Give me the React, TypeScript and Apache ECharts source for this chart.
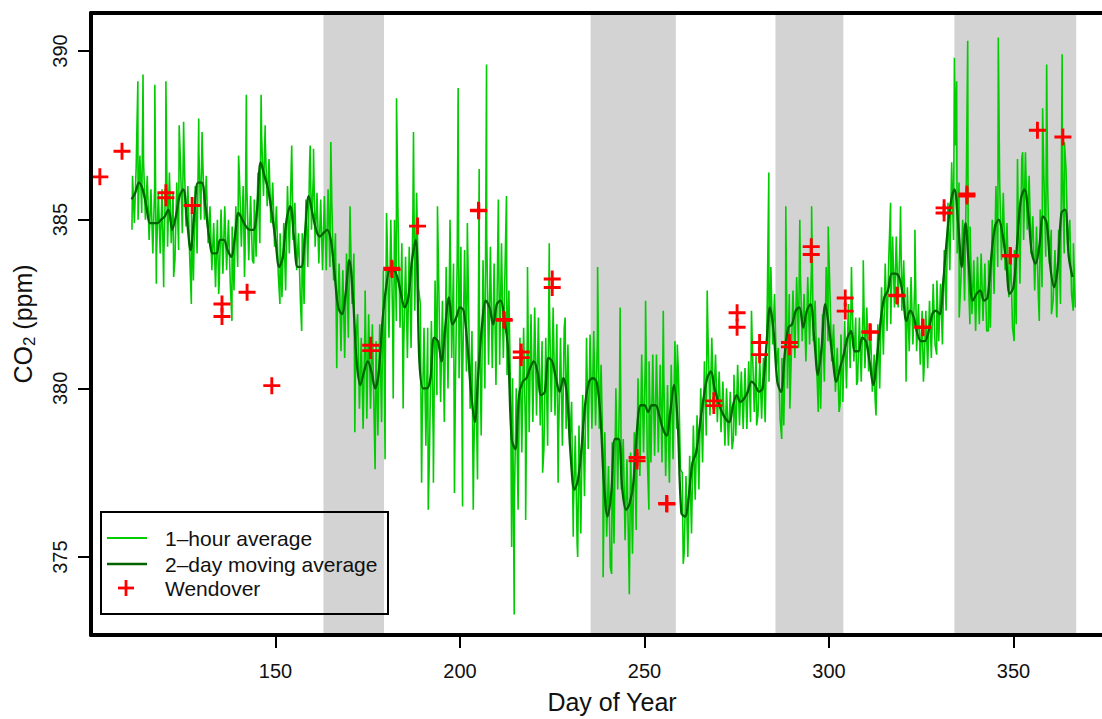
import React, { useEffect, useRef } from "react";
import * as echarts from "echarts";

// ---- axis ticks ----
const dayTicks = [150, 200, 250, 300, 350];
const ppmTicks = [375, 380, 385, 390];

// ---- shaded periods (day of year) ----
const bandStart = [163.0, 235.4, 285.5, 334.0];
const bandEnd = [179.4, 258.5, 303.9, 367.0];

// ---- 1-hour average: daily core band (top / bottom), first day = 111 ----
const firstDay = 111;
const hourHigh = [
  386.3, 386.6, 386.9, 386.7, 386.3, 385.9, 386.0, 385.8, 385.9, 386.2,
  386.4, 385.8, 386.1, 386.7, 386.9, 386.0, 385.2, 386.0, 387.0, 386.9,
  386.3, 385.4, 384.9, 385.0, 385.3, 385.4, 385.0, 384.8, 385.4, 386.2,
  386.0, 385.9, 385.7, 385.6, 386.4, 387.5, 387.3, 386.8, 386.1, 385.4,
  384.6, 384.9, 386.0, 386.5, 385.5, 384.6, 384.6, 385.6, 386.7, 386.3,
  385.8, 385.6, 385.7, 385.9, 385.6, 384.6, 383.7, 383.5, 384.0, 385.0,
  384.0, 382.2, 381.5, 381.9, 382.2, 381.9, 381.4, 381.9, 383.5, 384.5,
  385.0, 385.0, 384.8, 384.3, 383.9, 384.2, 385.3, 385.8, 382.5, 381.8,
  381.8, 382.0, 383.2, 383.1, 382.6, 383.6, 384.4, 383.7, 383.9, 384.2,
  384.1, 383.1, 381.7, 380.8, 382.4, 383.8, 384.5, 384.2, 383.7, 384.3,
  384.3, 383.8, 382.9, 380.3, 380.0, 381.5, 381.8, 381.9, 382.2, 382.4,
  382.1, 381.4, 381.5, 382.5, 382.4, 381.9, 381.5, 381.8, 381.3, 379.6,
  378.6, 378.9, 379.8, 381.0, 381.6, 381.7, 381.6, 380.7, 378.7, 377.7,
  378.4, 380.0, 380.0, 378.5, 377.9, 378.1, 378.7, 380.3, 381.0, 381.0,
  380.8, 381.0, 381.0, 380.7, 380.3, 380.1, 380.7, 381.4, 380.3, 377.5,
  377.4, 378.0, 378.9, 379.2, 380.0, 380.8, 381.4, 381.5, 381.0, 380.5,
  380.2, 380.0, 379.9, 380.4, 380.7, 380.5, 380.6, 380.8, 381.2, 381.0,
  380.8, 380.9, 382.3, 383.6, 382.8, 381.2, 380.9, 382.0, 382.8, 382.9,
  383.3, 383.4, 382.8, 383.3, 383.6, 382.6, 381.5, 382.2, 383.6, 382.9,
  381.9, 381.2, 381.6, 382.0, 382.5, 382.7, 382.1, 382.1, 382.5, 382.4,
  381.8, 381.0, 381.9, 383.0, 383.7, 384.0, 384.5, 384.5, 384.4, 383.8,
  383.0, 383.3, 383.1, 382.5, 382.3, 382.3, 382.6, 383.1, 383.2, 383.1,
  384.1, 385.5, 386.7, 387.2, 386.1, 385.0, 386.3, 384.8, 383.8, 383.9,
  384.0, 383.7, 383.8, 385.0, 386.0, 386.2, 385.8, 384.9, 383.9, 384.1,
  385.5, 386.8, 387.0, 386.3, 385.1, 384.8, 385.3, 386.3, 386.1, 384.7,
  384.1, 384.7, 386.5, 386.5, 385.0, 384.3,
];
const hourLow = [
  384.9, 385.0, 385.2, 385.0, 384.4, 384.0, 383.9, 384.0, 384.0, 384.2,
  384.3, 383.8, 384.1, 384.6, 384.8, 383.9, 383.2, 384.0, 385.0, 385.0,
  384.3, 383.5, 383.0, 383.1, 383.4, 383.5, 383.1, 382.9, 383.6, 384.2,
  384.0, 383.8, 383.8, 383.9, 384.3, 385.7, 385.4, 384.9, 384.2, 383.4,
  382.7, 382.9, 384.0, 384.4, 383.5, 382.6, 382.5, 383.6, 384.7, 384.2,
  383.7, 383.5, 383.5, 383.6, 383.2, 382.1, 381.1, 380.9, 381.5, 382.5,
  381.3, 379.4, 378.8, 379.1, 379.4, 379.0, 378.6, 379.0, 380.5, 381.5,
  382.0, 382.0, 381.8, 381.2, 380.9, 381.2, 382.3, 383.0, 379.0, 378.3,
  378.2, 378.5, 379.8, 379.6, 379.0, 380.0, 380.9, 380.0, 380.3, 380.6,
  380.5, 379.4, 378.0, 377.3, 378.6, 380.0, 380.7, 380.6, 380.1, 380.7,
  380.9, 380.4, 379.5, 376.7, 376.4, 378.1, 378.6, 378.7, 379.0, 379.2,
  378.9, 378.2, 378.3, 379.3, 379.2, 378.7, 378.3, 378.8, 378.3, 376.4,
  375.4, 375.7, 376.8, 378.2, 378.8, 378.9, 378.8, 377.8, 375.6, 374.7,
  375.4, 377.0, 377.0, 375.5, 374.9, 375.1, 375.8, 377.4, 378.1, 378.0,
  377.8, 378.0, 378.1, 377.8, 377.4, 377.2, 377.9, 378.8, 377.6, 375.1,
  375.0, 375.7, 376.7, 377.0, 377.8, 378.6, 379.2, 379.4, 379.0, 378.7,
  378.5, 378.3, 378.2, 378.6, 378.9, 378.8, 378.8, 379.0, 379.3, 379.2,
  379.1, 379.2, 380.2, 381.3, 380.6, 379.1, 378.9, 380.0, 380.8, 380.9,
  381.2, 381.4, 380.8, 381.3, 381.4, 380.4, 379.4, 380.2, 381.4, 380.8,
  379.9, 379.3, 379.6, 380.0, 380.6, 380.8, 380.2, 380.2, 380.6, 380.5,
  379.9, 379.2, 380.0, 381.0, 381.7, 381.9, 382.4, 382.4, 382.3, 381.8,
  381.1, 381.3, 381.1, 380.7, 380.5, 380.6, 380.9, 381.3, 381.4, 381.3,
  382.3, 383.5, 384.4, 384.0, 383.2, 382.6, 383.4, 382.2, 381.7, 381.9,
  382.0, 381.7, 381.8, 382.8, 383.6, 383.8, 383.5, 382.7, 381.8, 381.9,
  383.1, 384.4, 384.7, 384.0, 382.9, 382.7, 383.0, 383.9, 383.7, 382.6,
  382.1, 382.5, 384.0, 384.1, 382.8, 382.4,
];

// ---- 1-hour average: isolated spikes ----
const spikeDays = [
  111.1, 112.7, 114.1, 117.3, 117.7, 119.7, 120.3, 122.4, 123.9, 125.1,
  127.2, 129.2, 130.1, 134.6, 138.2, 140.0, 141.6, 142.1, 144.1, 146.1,
  147.2, 151.2, 154.4, 157.1, 159.4, 160.3, 165.0, 166.6, 170.2, 171.5,
  174.3, 177.0, 179.7, 180.1, 181.9, 182.8, 184.6, 187.4, 189.6, 191.4,
  192.8, 193.9, 197.3, 198.5, 199.5, 200.7, 202.0, 203.6, 205.2, 207.2,
  210.4, 212.6, 214.0, 214.7, 217.8, 218.3, 222.4, 224.2, 226.6, 228.5,
  230.7, 231.9, 234.3, 237.3, 238.8, 241.1, 243.4, 245.9, 250.3, 251.2,
  255.1, 258.9, 260.5, 267.0, 271.8, 274.1, 279.0, 280.4, 282.7, 283.7,
  287.2, 288.3, 289.4, 292.1, 295.3, 297.1, 299.8, 303.0, 306.1, 307.5,
  309.3, 312.5, 316.7, 319.4, 320.9, 323.3, 325.6, 329.2, 334.0, 334.6,
  335.3, 337.6, 338.2, 343.2, 345.9, 350.2, 351.1, 352.5, 357.0, 357.9,
  359.0, 360.3, 361.7, 363.2, 363.8, 366.2,
];
const spikeValues = [
  384.7, 389.1, 389.3, 389.0, 383.1, 383.0, 389.1, 383.3, 387.8, 387.9,
  382.5, 388.0, 387.6, 382.8, 382.0, 386.9, 383.3, 388.7, 383.7, 388.7,
  387.8, 382.5, 387.2, 381.7, 387.2, 387.1, 387.3, 380.6, 385.4, 378.7,
  382.9, 377.6, 377.9, 385.2, 379.7, 388.6, 379.4, 387.6, 377.2, 376.4,
  377.2, 385.4, 385.0, 376.9, 388.9, 376.5, 384.9, 376.4, 386.5, 389.6,
  385.6, 385.7, 375.3, 373.3, 376.1, 383.6, 377.5, 384.3, 377.2, 382.1,
  375.6, 375.0, 381.5, 383.6, 374.4, 374.5, 382.4, 373.9, 382.6, 376.4,
  382.3, 381.3, 374.8, 382.9, 378.3, 378.5, 382.3, 378.9, 379.0, 386.4,
  378.5, 385.4, 379.4, 385.0, 385.4, 379.3, 384.8, 379.5, 383.6, 380.1,
  383.8, 379.7, 385.5, 385.4, 380.2, 384.7, 380.2, 381.0, 389.8, 389.1,
  382.1, 390.3, 381.9, 381.7, 390.4, 381.4, 386.8, 387.0, 382.0, 388.3,
  389.6, 382.2, 382.2, 389.9, 387.3, 382.3,
];

// ---- 2-day moving average, one value per day from firstDay ----
const movingAvg = [
  385.6, 385.8, 386.1, 385.9, 385.4, 384.9, 384.9, 384.9, 385.0, 385.1,
  385.3, 384.7, 385.1, 385.7, 385.9, 385.0, 384.1, 385.2, 386.1, 386.1,
  385.4, 384.5, 384.0, 384.0, 384.4, 384.4, 384.1, 383.9, 384.5, 385.2,
  385.0, 384.8, 384.7, 384.7, 385.3, 386.7, 386.3, 385.9, 385.2, 384.4,
  383.6, 383.9, 385.0, 385.4, 384.5, 383.6, 383.6, 384.6, 385.7, 385.2,
  384.7, 384.5, 384.6, 384.7, 384.4, 383.4, 382.4, 382.2, 382.8, 383.8,
  382.7, 380.8, 380.1, 380.5, 380.8, 380.5, 380.0, 380.5, 382.0, 383.0,
  383.5, 383.5, 383.3, 382.8, 382.4, 382.7, 383.8, 384.4, 380.8, 380.0,
  380.0, 380.3, 381.5, 381.4, 380.8, 381.8, 382.7, 381.9, 382.1, 382.4,
  382.3, 381.3, 379.9, 379.0, 380.5, 381.9, 382.6, 382.4, 381.9, 382.5,
  382.6, 382.1, 381.2, 378.5, 378.2, 379.8, 380.2, 380.3, 380.6, 380.8,
  380.5, 379.8, 379.9, 380.9, 380.8, 380.3, 379.9, 380.3, 379.8, 378.0,
  377.0, 377.3, 378.3, 379.6, 380.2, 380.3, 380.2, 379.3, 377.2, 376.2,
  376.9, 378.5, 378.5, 377.0, 376.4, 376.6, 377.2, 378.8, 379.5, 379.5,
  379.3, 379.5, 379.5, 379.2, 378.8, 378.6, 379.3, 380.1, 379.0, 376.3,
  376.2, 376.8, 377.8, 378.1, 378.9, 379.7, 380.3, 380.5, 380.0, 379.6,
  379.3, 379.1, 379.0, 379.5, 379.8, 379.6, 379.7, 379.9, 380.2, 380.1,
  379.9, 380.0, 381.2, 382.4, 381.7, 380.2, 379.9, 381.0, 381.8, 381.9,
  382.3, 382.4, 381.8, 382.3, 382.5, 381.5, 380.4, 381.2, 382.5, 381.8,
  380.9, 380.2, 380.6, 381.0, 381.5, 381.7, 381.1, 381.1, 381.5, 381.4,
  380.8, 380.1, 380.9, 382.0, 382.7, 382.9, 383.4, 383.4, 383.3, 382.8,
  382.0, 382.3, 382.1, 381.6, 381.4, 381.4, 381.7, 382.2, 382.3, 382.2,
  383.2, 384.5, 385.5, 385.9, 384.9, 383.6, 384.9, 383.5, 382.6, 382.8,
  382.9, 382.6, 382.7, 383.9, 384.8, 385.0, 384.6, 383.8, 382.8, 383.0,
  384.3, 385.6, 385.9, 385.2, 384.0, 383.7, 384.2, 385.1, 384.9, 383.6,
  383.0, 383.6, 385.2, 385.3, 383.9, 383.3,
];

// ---- Wendover flask samples ----
const wendoverDays = [
  102.4, 108.4, 120.3, 120.3, 127.4, 135.5, 135.5, 142.3, 149.0, 175.8,
  175.8, 181.5, 181.6, 188.5, 205.0, 205.1, 211.9, 212.0, 216.6, 216.6,
  225.0, 225.0, 248.0, 248.0, 256.0, 256.1, 268.8, 268.8, 275.1, 275.1,
  281.2, 281.2, 289.3, 289.3, 295.2, 295.2, 304.4, 304.4, 311.1, 311.2,
  318.4, 318.5, 325.4, 325.5, 331.2, 331.2, 337.4, 337.4, 349.1, 349.2,
  356.5, 363.4,
];
const wendoverPpm = [
  386.27, 387.03, 385.8, 385.65, 385.42, 382.5, 382.13, 382.85, 380.08, 381.28,
  381.12, 383.56, 383.52, 384.81, 385.28, 385.26, 382.04, 382.02, 381.08, 380.91,
  383.24, 382.99, 377.95, 377.85, 376.59, 376.57, 379.63, 379.49, 382.24, 381.81,
  381.36, 381.0, 381.36, 381.23, 384.2, 383.97, 382.68, 382.29, 381.68, 381.66,
  382.76, 382.74, 381.82, 381.8, 385.35, 385.2, 385.76, 385.7, 383.94, 383.92,
  387.65, 387.45,
];

const FONT = "'Liberation Sans', Arial, Helvetica, sans-serif";
const LIGHT = "#00cc00";
const DARK = "#006400";
const RED = "#ff0000";
const PLUS =
  "path://M-0.17,-1 L0.17,-1 L0.17,-0.17 L1,-0.17 L1,0.17 L0.17,0.17 L0.17,1 L-0.17,1 L-0.17,0.17 L-1,0.17 L-1,-0.17 L-0.17,-0.17 Z";

export default function App() {
  const ref = useRef<HTMLDivElement>(null);

  useEffect(() => {
    if (!ref.current) return;
    const chart = echarts.init(ref.current, undefined, { renderer: "svg" });

    const hourly: [number, number][] = [];
    hourHigh.forEach((v, i) => {
      hourly.push([firstDay + i + 0.25, v]);
      hourly.push([firstDay + i + 0.75, hourLow[i]]);
    });
    spikeDays.forEach((d, i) => hourly.push([d, spikeValues[i]]));
    hourly.sort((a, b) => a[0] - b[0]);

    const avg = movingAvg.map((v, i) => [firstDay + i, v]);
    const wend = wendoverDays.map((d, i) => [d, wendoverPpm[i]]);
    const bands = bandStart.map((s, i) => [{ xAxis: s }, { xAxis: bandEnd[i] }]);

    const axisLineStyle = { color: "#000", width: 4 };
    const legendText = (text: string, y: number) => ({
      type: "text",
      x: 165,
      y,
      z: 20,
      style: {
        text,
        fill: "#111",
        font: `21px ${FONT}`,
        textAlign: "left",
        textVerticalAlign: "middle",
      },
    });

    chart.setOption({
      animation: false,
      backgroundColor: "#fff",
      grid: { left: 91, top: 13, width: 1042, height: 630, show: false },
      xAxis: [
        {
          type: "value",
          min: 100,
          max: 382.4,
          position: "bottom",
          z: 10,
          name: "Day of Year",
          nameLocation: "middle",
          nameGap: 54,
          nameTextStyle: { fontSize: 25, fontFamily: FONT, color: "#111" },
          axisLine: { show: true, onZero: false, lineStyle: axisLineStyle },
          axisTick: { show: true, length: 13, customValues: dayTicks, lineStyle: { color: "#000", width: 2 } },
          axisLabel: { customValues: dayTicks, fontSize: 20, fontFamily: FONT, color: "#111", margin: 26 },
          splitLine: { show: false },
        },
        {
          type: "value",
          min: 100,
          max: 382.4,
          position: "top",
          z: 10,
          axisLine: { show: true, onZero: false, lineStyle: axisLineStyle },
          axisTick: { show: false },
          axisLabel: { show: false },
          splitLine: { show: false },
        },
      ],
      yAxis: {
        type: "value",
        min: 372.69,
        max: 391.126,
        z: 10,
        name: "{a|CO}{b|2}{a| (ppm)}",
        nameLocation: "middle",
        nameRotate: 90,
        nameGap: 53,
        nameTextStyle: {
          fontFamily: FONT,
          color: "#111",
          rich: {
            a: { fontSize: 25, fontFamily: FONT, color: "#111", lineHeight: 30 },
            b: { fontSize: 17, fontFamily: FONT, color: "#111", lineHeight: 30, padding: [12, 0, 0, 0] },
          },
        },
        axisLine: { show: true, onZero: false, lineStyle: axisLineStyle },
        axisTick: { show: true, length: 13, customValues: ppmTicks, lineStyle: { color: "#000", width: 2 } },
        axisLabel: { customValues: ppmTicks, rotate: 90, fontSize: 20, fontFamily: FONT, color: "#111", margin: 21 },
        splitLine: { show: false },
      },
      series: [
        {
          name: "1-hour average",
          type: "line",
          data: hourly,
          showSymbol: false,
          symbol: "none",
          z: 2,
          lineStyle: { color: LIGHT, width: 1.6 },
          itemStyle: { color: LIGHT },
          markArea: {
            silent: true,
            z: 1,
            itemStyle: { color: "#d3d3d3", borderWidth: 0 },
            label: { show: false },
            data: bands,
          },
        },
        {
          name: "2-day moving average",
          type: "line",
          data: avg,
          showSymbol: false,
          symbol: "none",
          smooth: 0.35,
          z: 3,
          lineStyle: { color: DARK, width: 2.3 },
          itemStyle: { color: DARK },
        },
        {
          name: "Wendover",
          type: "scatter",
          data: wend,
          symbol: PLUS,
          symbolSize: 17,
          z: 4,
          itemStyle: { color: RED, opacity: 1 },
        },
      ],
      graphic: [
        {
          type: "rect",
          z: 20,
          shape: { x: 101, y: 512, width: 287, height: 102 },
          style: { fill: "none", stroke: "#000", lineWidth: 2 },
        },
        {
          type: "line",
          z: 20,
          shape: { x1: 107, y1: 538, x2: 147, y2: 538 },
          style: { stroke: LIGHT, lineWidth: 2 },
        },
        {
          type: "line",
          z: 20,
          shape: { x1: 107, y1: 564, x2: 147, y2: 564 },
          style: { stroke: DARK, lineWidth: 2.5 },
        },
        {
          type: "line",
          z: 20,
          shape: { x1: 118, y1: 588, x2: 134, y2: 588 },
          style: { stroke: RED, lineWidth: 2.8 },
        },
        {
          type: "line",
          z: 20,
          shape: { x1: 126, y1: 580, x2: 126, y2: 596 },
          style: { stroke: RED, lineWidth: 2.8 },
        },
        legendText("1\u2013hour average", 538),
        legendText("2\u2013day moving average", 564),
        legendText("Wendover", 588),
      ],
    });

    return () => chart.dispose();
  }, []);

  return (
    <div style={{ position: "absolute", left: 0, top: 0, width: 1102, height: 719, overflow: "hidden", background: "#fff" }}>
      <div ref={ref} style={{ width: 1140, height: 719 }} />
    </div>
  );
}
